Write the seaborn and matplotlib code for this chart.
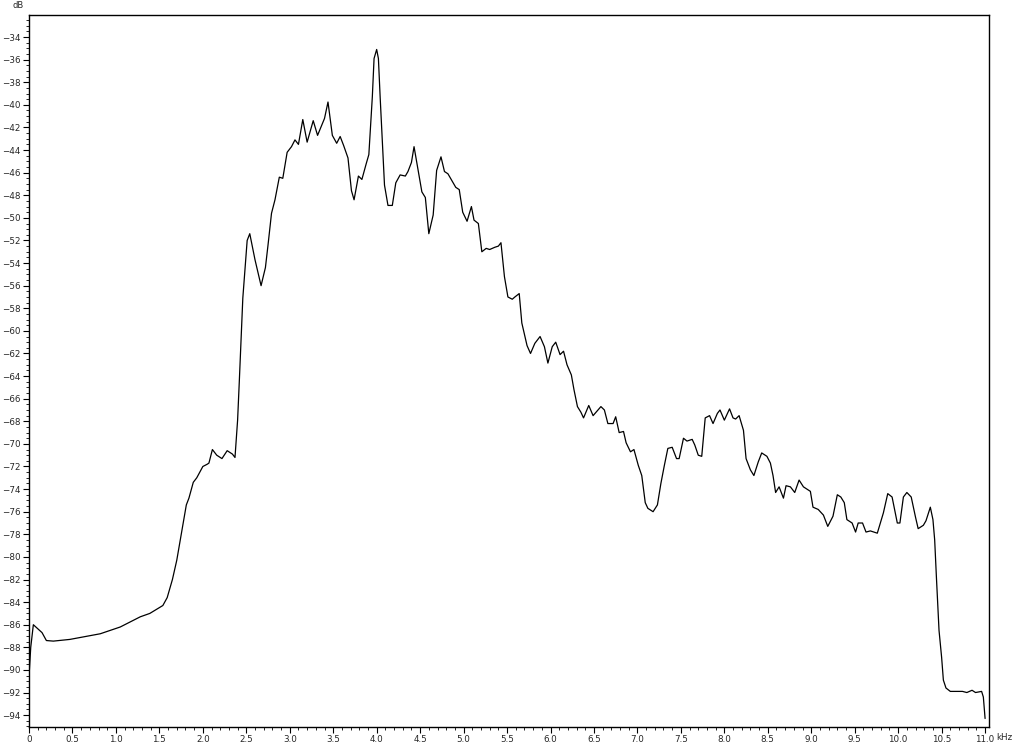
import numpy as np
import pandas as pd
import matplotlib
matplotlib.use("Agg")
import matplotlib.pyplot as plt
from matplotlib.ticker import MultipleLocator
import seaborn as sns

# spectrum: frequency (kHz) and level (dB)
freq_khz = [
    0.00, 0.02, 0.05, 0.15, 0.20, 0.28, 0.47, 0.82, 1.05, 1.28, 1.39, 1.54,
    1.59, 1.65, 1.70, 1.76, 1.81, 1.84, 1.89, 1.93, 2.00, 2.05, 2.07, 2.11,
    2.16, 2.22, 2.28, 2.34, 2.37, 2.40, 2.42, 2.46, 2.50, 2.51, 2.54, 2.60,
    2.67, 2.72, 2.75, 2.79, 2.83, 2.88, 2.92, 2.97, 3.02, 3.06, 3.10, 3.15,
    3.20, 3.27, 3.32, 3.40, 3.44, 3.49, 3.54, 3.58, 3.62, 3.67, 3.71, 3.74,
    3.79, 3.83, 3.88, 3.91, 3.95, 3.97, 4.00, 4.02, 4.04, 4.09, 4.13, 4.18,
    4.22, 4.27, 4.33, 4.36, 4.40, 4.43, 4.48, 4.52, 4.56, 4.60, 4.65, 4.69,
    4.74, 4.78, 4.82, 4.88, 4.91, 4.95, 4.99, 5.04, 5.09, 5.12, 5.17, 5.21,
    5.26, 5.30, 5.36, 5.40, 5.43, 5.47, 5.51, 5.56, 5.59, 5.64, 5.67, 5.73,
    5.77, 5.82, 5.88, 5.93, 5.97, 6.02, 6.06, 6.11, 6.15, 6.19, 6.24, 6.27,
    6.31, 6.35, 6.38, 6.44, 6.49, 6.58, 6.62, 6.66, 6.72, 6.75, 6.79, 6.84,
    6.87, 6.92, 6.96, 7.01, 7.05, 7.09, 7.12, 7.18, 7.23, 7.27, 7.31, 7.35,
    7.40, 7.45, 7.48, 7.53, 7.57, 7.63, 7.66, 7.70, 7.74, 7.78, 7.83, 7.87,
    7.92, 7.95, 8.00, 8.06, 8.10, 8.13, 8.17, 8.22, 8.25, 8.30, 8.34, 8.39,
    8.43, 8.49, 8.53, 8.56, 8.59, 8.63, 8.68, 8.71, 8.76, 8.81, 8.86, 8.91,
    8.95, 8.99, 9.02, 9.08, 9.14, 9.19, 9.25, 9.30, 9.34, 9.38, 9.41, 9.47,
    9.51, 9.54, 9.59, 9.63, 9.68, 9.72, 9.76, 9.83, 9.88, 9.93, 9.99, 10.02,
    10.06, 10.10, 10.15, 10.20, 10.23, 10.29, 10.32, 10.37, 10.40, 10.42,
    10.44, 10.47, 10.50, 10.52, 10.55, 10.60, 10.74, 10.79, 10.85, 10.89,
    10.96, 10.98, 11.00,
]
level_db = [
    -90.6, -88.0, -86.0, -86.7, -87.4, -87.45, -87.3, -86.8, -86.2, -85.3, -85.0, -84.3,
    -83.6, -82.0, -80.3, -77.6, -75.4, -74.8, -73.4, -73.0, -72.0, -71.8, -71.7, -70.5,
    -71.0, -71.3, -70.6, -70.9, -71.2, -67.9, -64.4, -57.1, -53.0, -52.0, -51.4, -53.7,
    -56.0, -54.4, -52.4, -49.6, -48.4, -46.4, -46.5, -44.2, -43.7, -43.1, -43.5, -41.3,
    -43.3, -41.4, -42.7, -41.2, -39.75, -42.7, -43.4, -42.8, -43.6, -44.7, -47.6, -48.4,
    -46.3, -46.6, -45.2, -44.4, -39.3, -35.9, -35.1, -35.9, -39.3, -47.1, -48.9, -48.9,
    -46.9, -46.2, -46.3, -45.9, -45.1, -43.7, -45.9, -47.7, -48.2, -51.4, -49.75, -45.8,
    -44.6, -45.9, -46.1, -46.9, -47.3, -47.5, -49.5, -50.3, -49.0, -50.2, -50.5, -53.0,
    -52.7, -52.8, -52.6, -52.5, -52.2, -55.2, -57.0, -57.2, -57.0, -56.7, -59.3, -61.3,
    -62.0, -61.1, -60.5, -61.4, -62.85, -61.4, -61.0, -62.1, -61.8, -63.0, -63.9, -65.2,
    -66.7, -67.2, -67.7, -66.6, -67.5, -66.7, -67.0, -68.2, -68.2, -67.6, -69.0, -68.9,
    -69.9, -70.7, -70.5, -71.9, -72.8, -75.2, -75.7, -76.0, -75.4, -73.5, -71.9, -70.4,
    -70.3, -71.3, -71.3, -69.5, -69.75, -69.6, -70.1, -71.0, -71.1, -67.7, -67.5, -68.2,
    -67.3, -67.0, -67.9, -66.9, -67.7, -67.8, -67.5, -68.8, -71.3, -72.3, -72.8, -71.6,
    -70.8, -71.1, -71.7, -72.8, -74.3, -73.8, -74.8, -73.7, -73.8, -74.3, -73.2, -73.8,
    -74.0, -74.2, -75.6, -75.8, -76.3, -77.3, -76.4, -74.5, -74.7, -75.2, -76.7, -77.0,
    -77.8, -77.0, -77.0, -77.8, -77.7, -77.8, -77.9, -76.1, -74.4, -74.7, -77.0, -77.0,
    -74.7, -74.3, -74.7, -76.5, -77.5, -77.2, -76.8, -75.6, -76.7, -78.5,
    -81.8, -86.5, -88.9, -90.9, -91.6, -91.9, -91.9, -92.0, -91.8, -92.0,
    -91.9, -92.4, -94.3,
]

x_ticks = [i * 0.5 for i in range(23)]
x_labels = ["0"] + [f"{v:.1f}" for v in x_ticks[1:]]
y_ticks = list(range(-94, -33, 2))

sns.set_style("ticks")
plt.rcParams["font.family"] = ["DejaVu Sans"]

df = pd.DataFrame({"freq": freq_khz, "level": level_db})

fig = plt.figure(figsize=(10.24, 7.45), dpi=100)
ax = fig.add_axes([29 / 1024, 1 - 727 / 745, 960 / 1024, 712 / 745])

sns.lineplot(data=df, x="freq", y="level", ax=ax, color="black",
             linewidth=0.9, sort=False)

ax.set_xlim(0, 11.045)
ax.set_ylim(-95.05, -32.05)
ax.set_xticks(x_ticks)
ax.set_xticklabels(x_labels)
ax.set_yticks(y_ticks)
ax.xaxis.set_minor_locator(MultipleLocator(0.1))
ax.yaxis.set_minor_locator(MultipleLocator(0.5))
ax.tick_params(which="major", direction="out", length=4, width=0.8,
               labelsize=6.3, pad=2, color="black")
ax.tick_params(which="minor", direction="out", length=2, width=0.6,
               color="black")
ax.set_xlabel("")
ax.set_ylabel("")
for s in ax.spines.values():
    s.set_visible(True)
    s.set_linewidth(1.0)
    s.set_color("black")

fig.text(18 / 1024, 1 - 5 / 745, "dB", fontsize=6, ha="center", va="center")
fig.text(996 / 1024, 1 - 738 / 745, "kHz", fontsize=6.3, ha="left", va="center")

fig.savefig("out.png", dpi=100, facecolor="white")
